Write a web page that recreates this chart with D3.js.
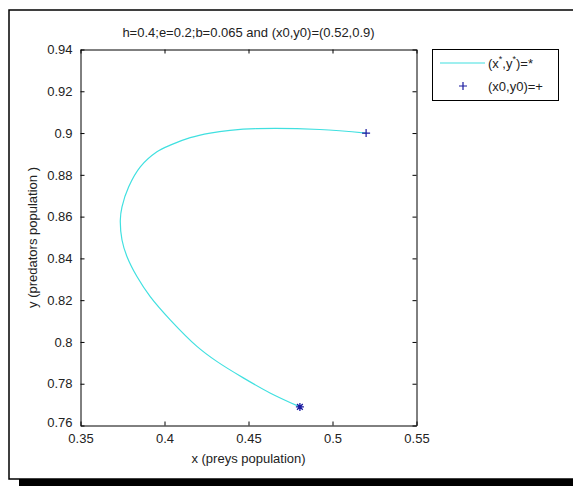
<!DOCTYPE html>
<html>
<head>
<meta charset="utf-8">
<script src="https://cdn.jsdelivr.net/npm/d3@7/dist/d3.min.js"></script>
<style>
  html, body { margin: 0; padding: 0; background: #fff; }
  svg { display: block; }
  text { font-family: "Liberation Sans", Arial, sans-serif; fill: #222; }
</style>
</head>
<body>
<svg id="chart" width="573" height="486"></svg>
<script>
// ---- data ----
const titleText = "h=0.4;e=0.2;b=0.065 and (x0,y0)=(0.52,0.9)";
const xLabel = "x (preys population)";
const yLabel = "y (predators population )";
const xTicks = [0.35, 0.4, 0.45, 0.5, 0.55];
const xTickLabels = ["0.35", "0.4", "0.45", "0.5", "0.55"];
const yTicks = [0.76, 0.78, 0.8, 0.82, 0.84, 0.86, 0.88, 0.9, 0.92, 0.94];
const yTickLabels = ["0.76", "0.78", "0.8", "0.82", "0.84", "0.86", "0.88", "0.9", "0.92", "0.94"];
// trajectory from (x0,y0) to the equilibrium (x*,y*)
const trajX = [0.520, 0.4924, 0.4549, 0.4390, 0.4272, 0.4153, 0.4034, 0.3955, 0.3856, 0.3787, 0.3747, 0.3737, 0.3747, 0.3777, 0.3836, 0.3915, 0.4034, 0.4193, 0.4311, 0.4469, 0.4628, 0.4806];
const trajY = [0.900, 0.9017, 0.9021, 0.9013, 0.9000, 0.8978, 0.8942, 0.8910, 0.8838, 0.8743, 0.8647, 0.8584, 0.8488, 0.8408, 0.8313, 0.8217, 0.8106, 0.7979, 0.7907, 0.7828, 0.7756, 0.7689];
const startPoint = [0.52, 0.9];      // (x0,y0) "+"
const equilibrium = [0.4806, 0.7689]; // (x*,y*) "*"
const legendLabels = ["(x*,y*)=*", "(x0,y0)=+"];

// ---- layout ----
const svg = d3.select("#chart");
const L = 80.5, R = 416.5, T = 49.5, B = 425.5;
const x = d3.scaleLinear().domain([0.35, 0.55]).range([L, R]);
const y = d3.scaleLinear().domain([0.76, 0.94]).range([B, T]);
const lineColor = "#40e0e0";
const markColor = "#1a1aa0";

// outer frame and shadow
svg.append("rect").attr("x", 19).attr("y", 479).attr("width", 560).attr("height", 8).attr("fill", "#000");
svg.append("rect").attr("x", 9).attr("y", 10).attr("width", 600).attr("height", 469)
  .attr("fill", "#fff").attr("stroke", "#000").attr("stroke-width", 1.5);

// axes with inward ticks
const tickLen = 4;
const gB = svg.append("g").attr("transform", `translate(0,${B})`)
  .call(d3.axisBottom(x).tickValues(xTicks).tickFormat((d, i) => xTickLabels[i]).tickSizeInner(-tickLen).tickSizeOuter(0).tickPadding(8));
const gT = svg.append("g").attr("transform", `translate(0,${T})`)
  .call(d3.axisTop(x).tickValues(xTicks).tickFormat("").tickSizeInner(-tickLen).tickSizeOuter(0));
const gL = svg.append("g").attr("transform", `translate(${L},0)`)
  .call(d3.axisLeft(y).tickValues(yTicks).tickFormat((d, i) => yTickLabels[i]).tickSizeInner(-tickLen).tickSizeOuter(0).tickPadding(8));
const gR = svg.append("g").attr("transform", `translate(${R},0)`)
  .call(d3.axisRight(y).tickValues(yTicks).tickFormat("").tickSizeInner(-tickLen).tickSizeOuter(0));
[gB, gT, gL, gR].forEach(g => {
  g.selectAll("path.domain").attr("stroke", "#000").attr("stroke-width", 1);
  g.selectAll(".tick line").attr("stroke", "#000");
  g.selectAll(".tick text").style("font-family", '"Liberation Sans", Arial, sans-serif')
    .style("font-size", "13px").attr("fill", "#222");
});
// the 0.76 label sits slightly above its tick in the reference
gL.selectAll(".tick text").filter(d => d === 0.76).attr("dy", "0.05em");

// trajectory
const pts = trajX.map((v, i) => [v, trajY[i]]);
svg.append("path").datum(pts)
  .attr("fill", "none").attr("stroke", lineColor).attr("stroke-width", 1.2)
  .attr("d", d3.line().x(d => x(d[0])).y(d => y(d[1])).curve(d3.curveCatmullRom.alpha(0.5)));

// markers
function plus(g, cx, cy, s) {
  g.append("path").attr("d", `M${cx - s},${cy}H${cx + s}M${cx},${cy - s}V${cy + s}`)
    .attr("stroke", markColor).attr("stroke-width", 1.2).attr("fill", "none");
}
function star(g, cx, cy, s) {
  const d = s * 0.72;
  g.append("path").attr("d", `M${cx - s},${cy}H${cx + s}M${cx},${cy - s}V${cy + s}M${cx - d},${cy - d}L${cx + d},${cy + d}M${cx - d},${cy + d}L${cx + d},${cy - d}`)
    .attr("stroke", markColor).attr("stroke-width", 1.3).attr("fill", "none");
}
plus(svg, x(startPoint[0]), y(startPoint[1]), 4);
star(svg, x(equilibrium[0]), y(equilibrium[1]), 4);

// title and axis labels
svg.append("text").attr("x", (L + R) / 2).attr("y", 37).attr("text-anchor", "middle")
  .style("font-size", "13px").text(titleText);
svg.append("text").attr("x", (L + R) / 2).attr("y", 463).attr("text-anchor", "middle")
  .style("font-size", "13px").text(xLabel);
svg.append("text").attr("transform", `translate(37,${(T + B) / 2}) rotate(-90)`).attr("text-anchor", "middle")
  .style("font-size", "13px").text(yLabel);

// legend
const lg = svg.append("g");
lg.append("rect").attr("x", 432.5).attr("y", 49.5).attr("width", 126).attr("height", 51)
  .attr("fill", "#fff").attr("stroke", "#000").attr("stroke-width", 1);
lg.append("line").attr("x1", 440).attr("x2", 485).attr("y1", 63).attr("y2", 63)
  .attr("stroke", lineColor).attr("stroke-width", 1.2);
const t1 = lg.append("text").attr("x", 488).attr("y", 68).style("font-size", "13px");
// "(x*,y*)=*" with superscript stars
const parts = legendLabels[0].split("*");
t1.append("tspan").text(parts[0]);
t1.append("tspan").attr("dy", -6).style("font-size", "9px").text("*");
t1.append("tspan").attr("dy", 6).text(parts[1]);
t1.append("tspan").attr("dy", -6).style("font-size", "9px").text("*");
t1.append("tspan").attr("dy", 6).text(parts[2] + "*");
plus(lg, 463, 86, 4);
lg.append("text").attr("x", 488).attr("y", 91).style("font-size", "13px").text(legendLabels[1]);
</script>
</body>
</html>
